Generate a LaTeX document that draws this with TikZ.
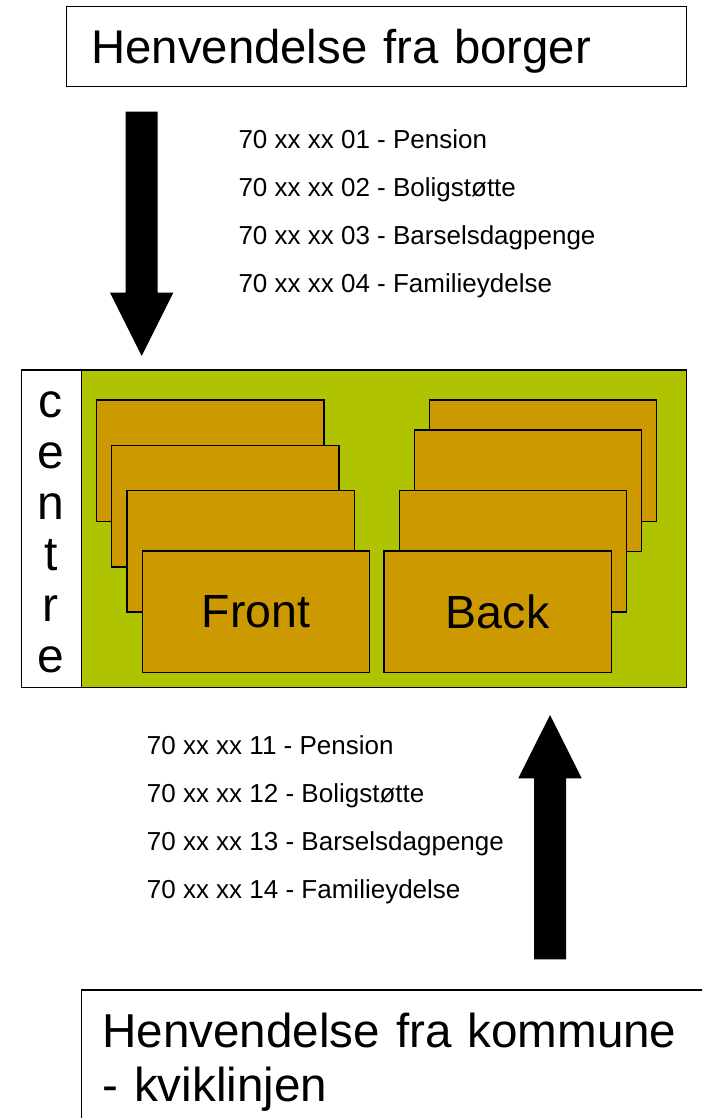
\documentclass[tikz,border=0pt]{standalone}
\usepackage{fontspec}
\setmainfont{Liberation Sans}
\definecolor{leaf}{RGB}{175,195,0}
\definecolor{ochre}{RGB}{204,153,0}
\begin{document}
\begin{tikzpicture}[x=1pt,y=-1pt,
  frame/.style={draw=black, line width=1.4pt, inner sep=0pt},
  card/.style={draw=black, fill=ochre, line width=1.3pt, anchor=north west,
    minimum width=227.3pt, minimum height=121.4pt, inner sep=0pt,
    font=\fontsize{46.5}{50}\selectfont},
  phonelist/.style={anchor=north west, inner sep=0pt, align=left,
    font=\fontsize{26}{48}\selectfont},
  blockarrow/.style={fill=black}]
\useasboundingbox (0,0) rectangle (702,1118);
\clip (0,0) rectangle (702,1118);

% incoming calls from citizens
\node (citizen) [frame, anchor=north west, minimum height=79.7pt,
  inner xsep=25pt, text width=570.3pt, align=left,
  text height=34pt, text depth=0pt, font=\fontsize{47.3}{54}\selectfont]
  at (65.7,6) {Henvendelse fra borger};

\fill[blockarrow] (125.7,111.7) -- (157.7,111.7) -- (157.7,292.7) -- (173.3,292.7)
  -- (141.7,356) -- (110,292.7) -- (125.7,292.7) -- cycle;

\node (citizenlines) [phonelist] at (238.3,129.9)
  {70 xx xx 01 - Pension\\70 xx xx 02 - Boligstøtte\\70 xx xx 03 - Barselsdagpenge\\70 xx xx 04 - Familieydelse};

% the centre with its front and back office teams
\node (centre) [frame, fill=white, anchor=north west, minimum width=60.3pt,
  minimum height=317.4pt] at (20.7,369.3) {};
\node (unit) [frame, fill=leaf, anchor=north west, minimum width=605pt,
  minimum height=317.4pt] at (81,369.3) {};
\node (centrelabel) [anchor=north, inner sep=0pt, align=center,
  font=\fontsize{48}{51}\selectfont] at (50.85,391.7) {c\\e\\n\\t\\r\\e};

\node (front1) [card] at (96,399.3) {};
\node (front2) [card] at (111,445) {};
\node (front3) [card] at (126.3,490) {};
\node (front4) [card] at (141.7,550.3) {Front};

\node (back1) [card] at (428.7,399.3) {};
\node (back2) [card] at (413.7,429.3) {};
\node (back3) [card] at (398.7,490) {};
\node (back4) [card] at (383.3,550.3) {Back};

% incoming calls from municipalities
\node (municipalitylines) [phonelist] at (146.7,735.7)
  {70 xx xx 11 - Pension\\70 xx xx 12 - Boligstøtte\\70 xx xx 13 - Barselsdagpenge\\70 xx xx 14 - Familieydelse};

\fill[blockarrow] (534,959.3) -- (566,959.3) -- (566,778.3) -- (581.7,778.3)
  -- (550,715) -- (518.3,778.3) -- (534,778.3) -- cycle;

\node (municipality) [frame, anchor=north west, inner xsep=20.7pt, inner ysep=23.4pt,
  text width=600pt, align=left, font=\fontsize{47.6}{54}\selectfont]
  at (81,989.3) {Henvendelse fra kommune\\- kviklinjen};
\end{tikzpicture}
\end{document}
